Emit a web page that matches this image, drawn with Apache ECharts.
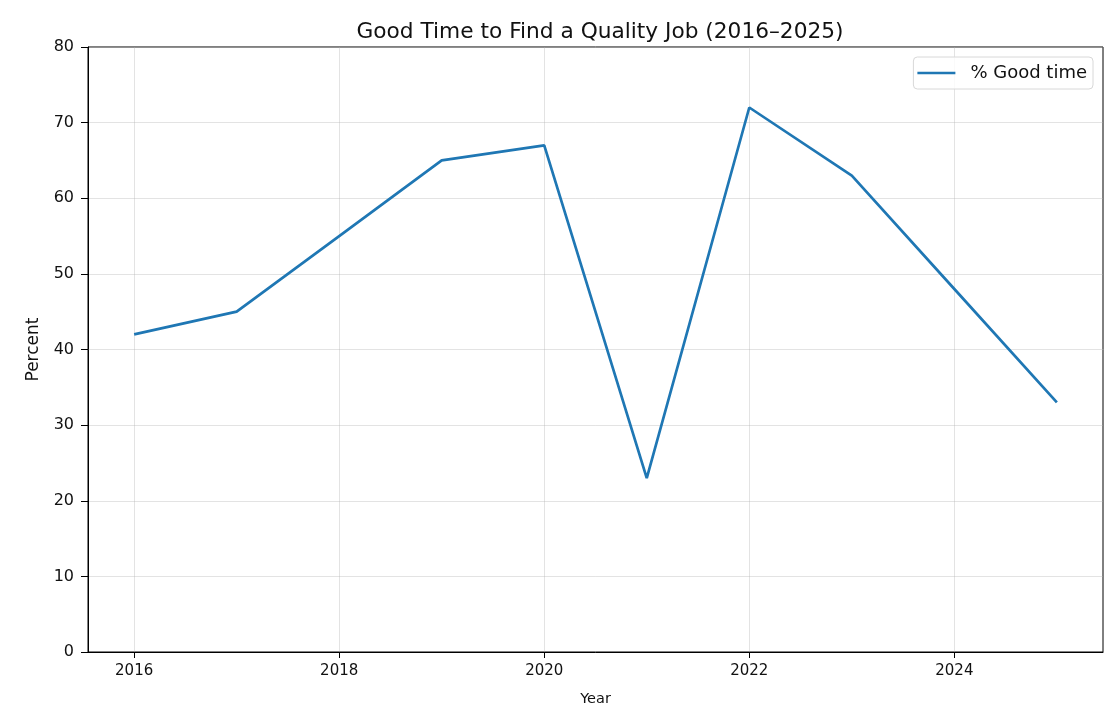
<!DOCTYPE html>
<html>
<head>
<meta charset="utf-8">
<script src="https://cdn.jsdelivr.net/npm/echarts@6/dist/echarts.min.js"></script>
<style>
html,body{margin:0;padding:0;background:#fff;}
#chart{width:1105px;height:710px;}
</style>
</head>
<body>
<div id="chart"></div>
<script>
const years = [2016, 2017, 2018, 2019, 2020, 2021, 2022, 2023, 2024, 2025];
const goodTime = [42, 45, 55, 65, 67, 23, 72, 63, 48, 33];
const xTicks = [2016, 2018, 2020, 2022, 2024];
const yTicks = [0, 10, 20, 30, 40, 50, 60, 70, 80];

const font = 'DejaVu Sans';
const chart = echarts.init(document.getElementById('chart'), null, {renderer: 'canvas'});
chart.setOption({
  animation: false,
  backgroundColor: '#ffffff',
  textStyle: {fontFamily: font},
  title: {
    text: 'Good Time to Find a Quality Job (2016\u20132025)',
    left: 595, top: 16, textAlign: 'center',
    textStyle: {fontFamily: font, fontSize: 21.7, fontWeight: 'normal', color: '#111'}
  },
  legend: {
    right: 12, top: 57,
    itemWidth: 38, itemHeight: 14, itemGap: 10,
    padding: [7, 6, 7, 4],
    borderColor: '#d8d8d8', borderWidth: 1, borderRadius: 4,
    backgroundColor: 'rgba(255,255,255,0.8)',
    textStyle: {fontFamily: font, fontSize: 18, color: '#111', padding: [0, 0, 0, 10]},
    data: [{name: '% Good time', icon: 'path://M0,5.65 L38,5.65 L38,8.35 L0,8.35 Z'}]
  },
  grid: {left: 88, right: 2, top: 47, bottom: 58, outerBoundsMode: 'none', containLabel: false, show: true, borderColor: '#000', borderWidth: 1, backgroundColor: 'transparent'},
  xAxis: {
    type: 'value', min: 2015.55, max: 2025.45,
    name: 'Year', nameLocation: 'middle', nameGap: 40,
    nameTextStyle: {fontFamily: font, fontSize: 14.5, color: '#111'},
    axisLine: {show: true, onZero: false, lineStyle: {color: '#000', width: 1}},
    axisTick: {show: true, inside: false, length: 6, lineStyle: {color: '#000'}, customValues: xTicks},
    axisLabel: {show: true, margin: 12, fontFamily: font, fontSize: 15, color: '#111', customValues: xTicks, formatter: v => String(v)},
    splitLine: {show: true, lineStyle: {color: 'rgba(176,176,176,0.35)', width: 1}}
  },
  yAxis: {
    type: 'value', min: 0, max: 80, interval: 10,
    name: 'Percent', nameLocation: 'middle', nameGap: 46, nameRotate: 90,
    nameTextStyle: {fontFamily: font, fontSize: 17, color: '#111'},
    axisLine: {show: true, lineStyle: {color: '#000', width: 1}},
    axisTick: {show: true, inside: false, length: 7, lineStyle: {color: '#000'}},
    axisLabel: {show: true, margin: 14, fontFamily: font, fontSize: 16, color: '#111', customValues: yTicks},
    splitLine: {show: true, lineStyle: {color: 'rgba(176,176,176,0.35)', width: 1}}
  },
  series: [{
    name: '% Good time',
    type: 'line',
    data: years.map((y, i) => [y, goodTime[i]]),
    showSymbol: false,
    symbol: 'none',
    lineStyle: {color: '#1f77b4', width: 2.7},
    itemStyle: {color: '#1f77b4'}
  }]
});
</script>
</body>
</html>
